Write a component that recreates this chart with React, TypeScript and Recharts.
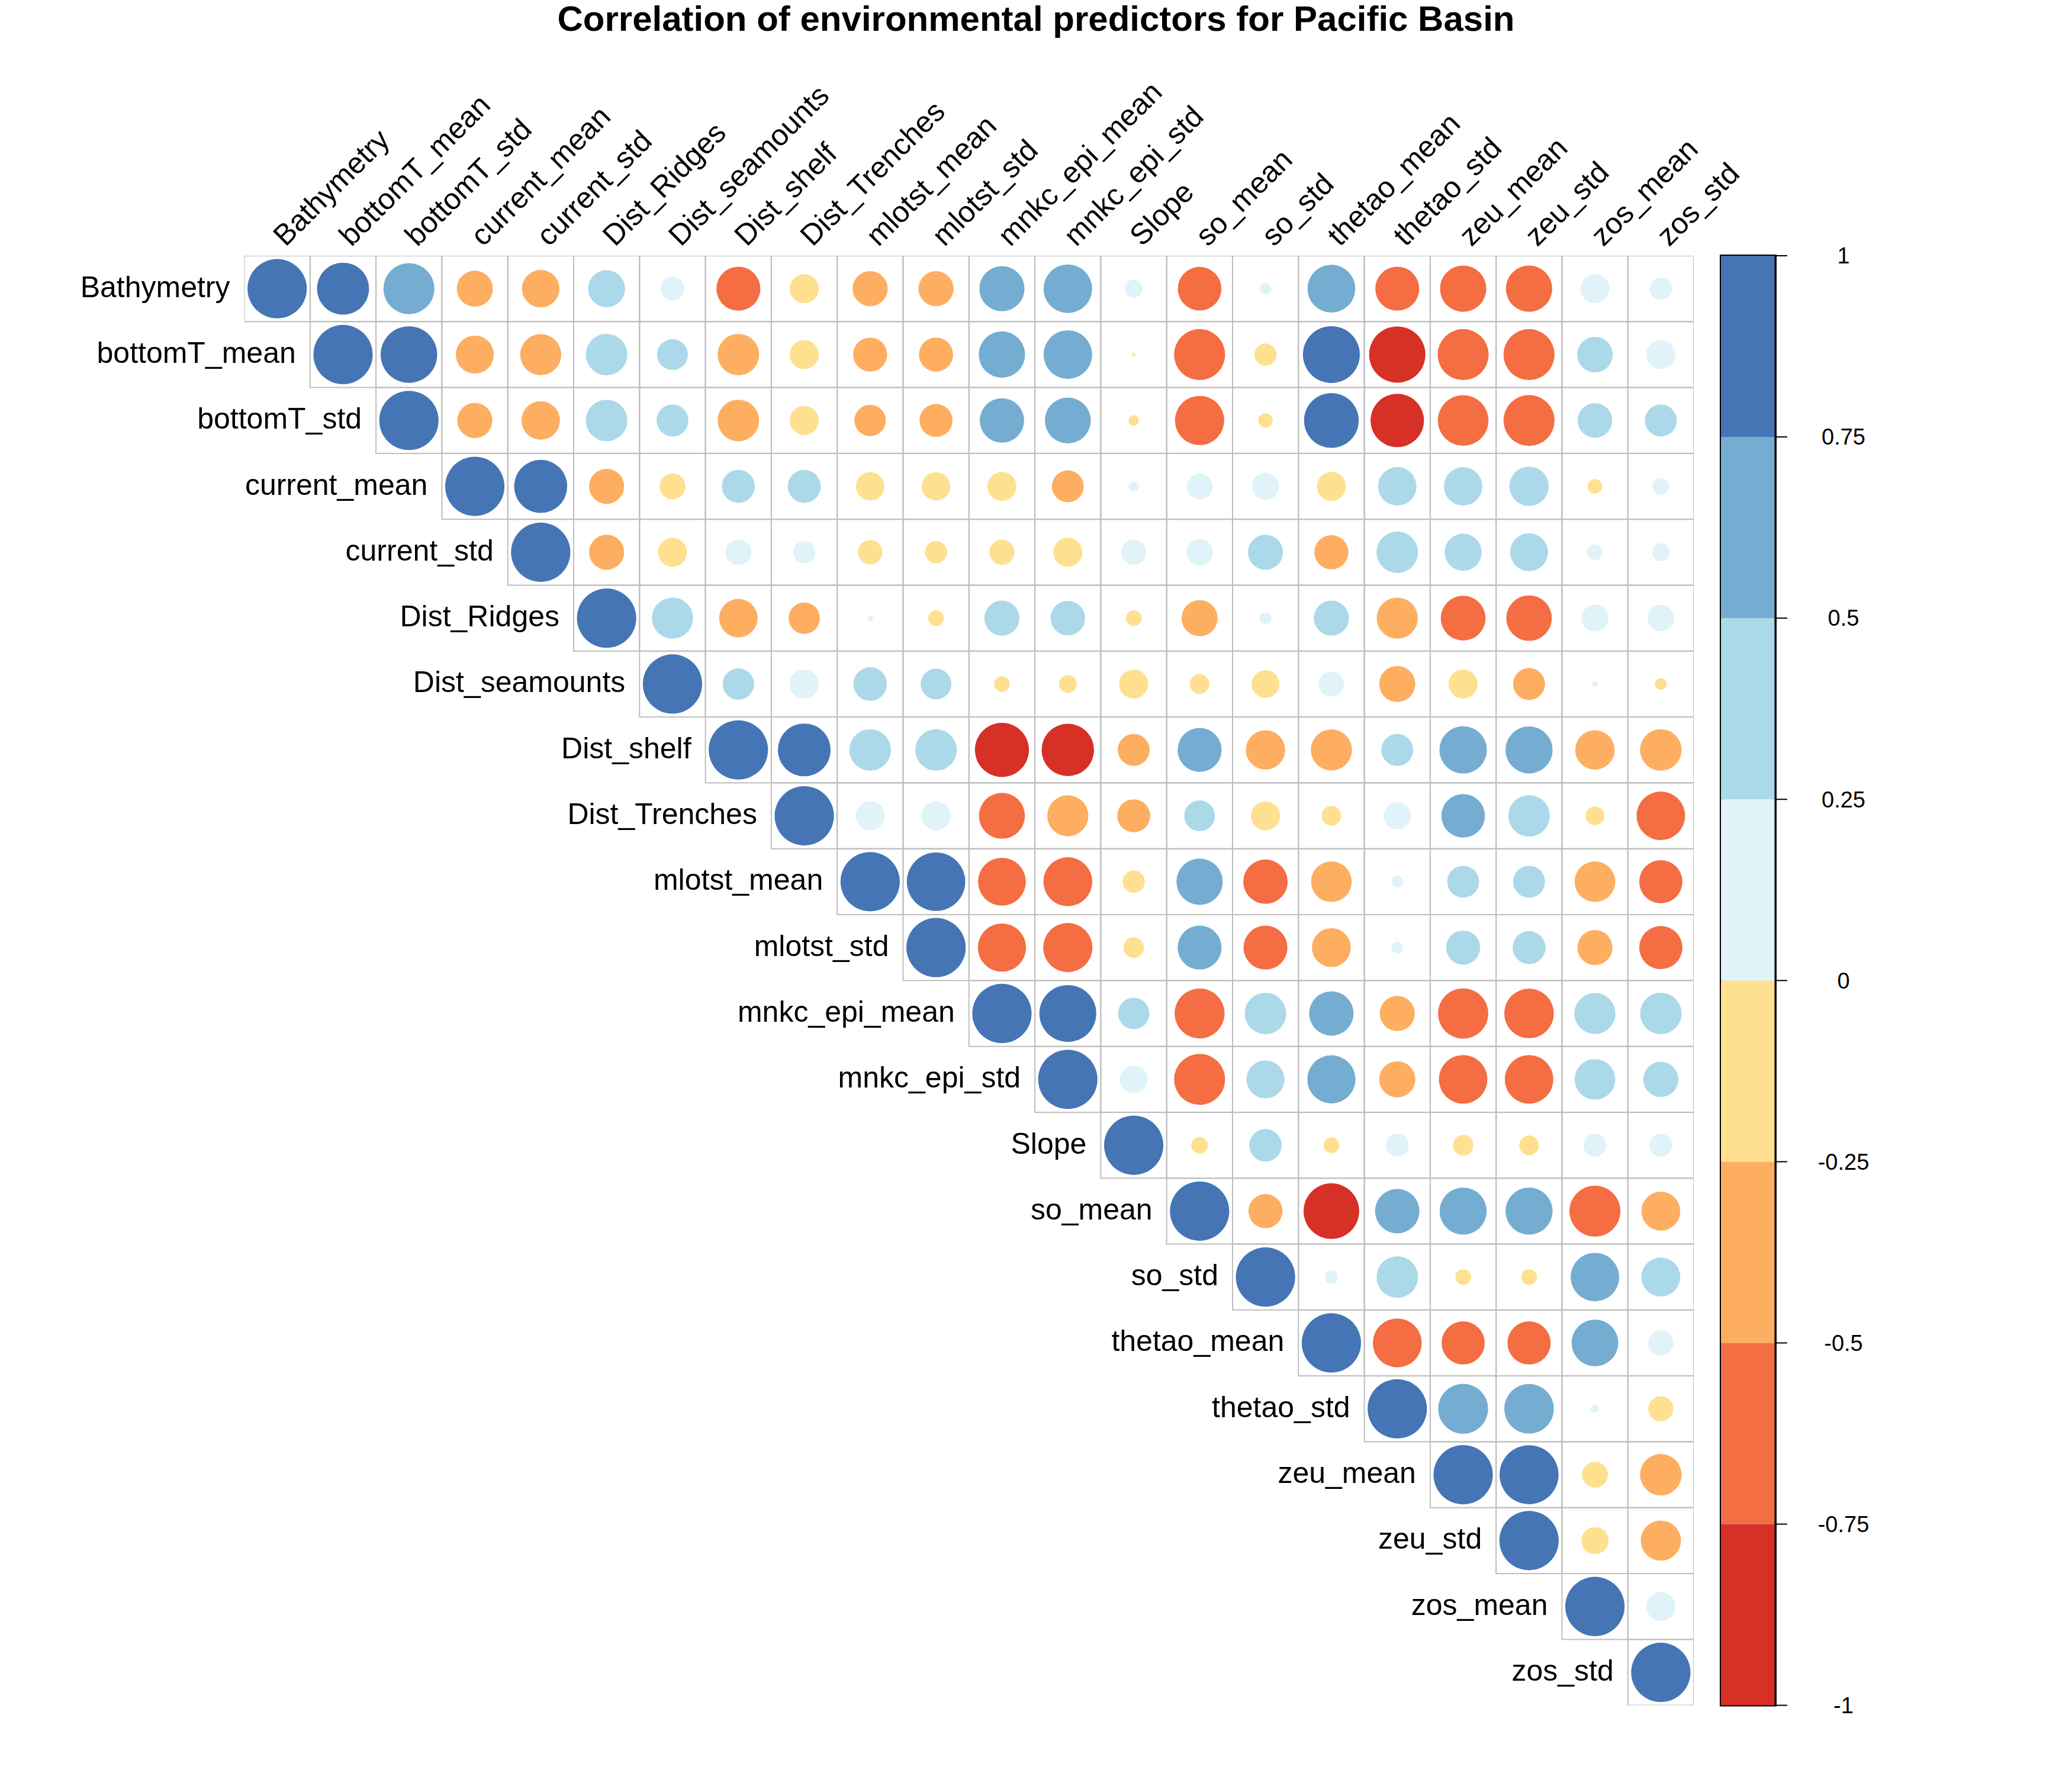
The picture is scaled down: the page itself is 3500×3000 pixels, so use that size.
import React from 'react';
import {
  ScatterChart, Scatter, XAxis, YAxis, ZAxis,
  BarChart, Bar, ReferenceArea,
} from 'recharts';

// ---------- data ----------
const VARS = [
  'Bathymetry', 'bottomT_mean', 'bottomT_std', 'current_mean', 'current_std',
  'Dist_Ridges', 'Dist_seamounts', 'Dist_shelf', 'Dist_Trenches', 'mlotst_mean',
  'mlotst_std', 'mnkc_epi_mean', 'mnkc_epi_std', 'Slope', 'so_mean', 'so_std',
  'thetao_mean', 'thetao_std', 'zeu_mean', 'zeu_std', 'zos_mean', 'zos_std',
];

// upper triangle rows: each starts at the diagonal
const r_Bathymetry = [1, 0.77, 0.74, -0.37, -0.40, 0.39, 0.16, -0.55, -0.24, -0.35, -0.35, 0.58, 0.67, 0.09, -0.54, 0.04, 0.65, -0.55, -0.61, -0.61, 0.24, 0.14];
const r_bottomT_mean = [1, 0.91, -0.41, -0.48, 0.49, 0.27, -0.49, -0.24, -0.33, -0.33, 0.61, 0.67, -0.003, -0.74, -0.14, 0.92, -0.90, -0.74, -0.74, 0.36, 0.24];
const r_bottomT_std = [1, -0.35, -0.42, 0.49, 0.29, -0.49, -0.24, -0.28, -0.31, 0.56, 0.60, -0.03, -0.69, -0.06, 0.85, -0.81, -0.73, -0.74, 0.34, 0.29];
const r_current_mean = [1, 0.80, -0.35, -0.19, 0.31, 0.31, -0.23, -0.23, -0.24, -0.29, 0.03, 0.19, 0.21, -0.24, 0.42, 0.42, 0.44, -0.06, 0.08];
const r_current_std = [1, -0.35, -0.24, 0.19, 0.14, -0.17, -0.14, -0.18, -0.24, 0.18, 0.20, 0.35, -0.33, 0.49, 0.39, 0.41, 0.07, 0.09];
const r_Dist_Ridges = [1, 0.48, -0.42, -0.28, 0.01, -0.07, 0.35, 0.34, -0.07, -0.37, 0.04, 0.35, -0.48, -0.57, -0.59, 0.21, 0.20];
const r_Dist_seamounts = [1, 0.28, 0.24, 0.32, 0.27, -0.07, -0.09, -0.24, -0.11, -0.22, 0.18, -0.37, -0.24, -0.29, 0.01, -0.04];
const r_Dist_shelf = [1, 0.79, 0.49, 0.49, -0.83, -0.78, -0.29, 0.55, -0.44, -0.48, 0.29, 0.64, 0.63, -0.44, -0.49];
const r_Dist_Trenches = [1, 0.24, 0.24, -0.60, -0.48, -0.31, 0.27, -0.24, -0.11, 0.21, 0.54, 0.49, -0.10, -0.67];
const r_mlotst_mean = [1, 0.97, -0.65, -0.68, -0.14, 0.61, -0.56, -0.47, 0.04, 0.29, 0.29, -0.47, -0.53];
const r_mlotst_std = [1, -0.66, -0.69, -0.12, 0.55, -0.55, -0.43, 0.04, 0.33, 0.31, -0.35, -0.53];
const r_mnkc_epi_mean = [1, 0.92, 0.28, -0.71, 0.49, 0.56, -0.35, -0.72, -0.70, 0.48, 0.49];
const r_mnkc_epi_std = [1, 0.22, -0.74, 0.41, 0.66, -0.37, -0.67, -0.67, 0.47, 0.35];
const r_Slope = [1, -0.08, 0.30, -0.07, 0.15, -0.12, -0.11, 0.15, 0.15];
const r_so_mean = [1, -0.33, -0.88, 0.56, 0.63, 0.63, -0.74, -0.43];
const r_so_std = [1, 0.05, 0.49, -0.07, -0.07, 0.67, 0.43];
const r_thetao_mean = [1, -0.68, -0.53, -0.53, 0.62, 0.18];
const r_thetao_std = [1, 0.71, 0.70, 0.02, -0.18];
const r_zeu_mean = [1, 0.99, -0.19, -0.49];
const r_zeu_std = [1, -0.21, -0.46];
const r_zos_mean = [1, 0.24];
const r_zos_std = [1];

const ROWS = [
  r_Bathymetry, r_bottomT_mean, r_bottomT_std, r_current_mean, r_current_std,
  r_Dist_Ridges, r_Dist_seamounts, r_Dist_shelf, r_Dist_Trenches, r_mlotst_mean,
  r_mlotst_std, r_mnkc_epi_mean, r_mnkc_epi_std, r_Slope, r_so_mean, r_so_std,
  r_thetao_mean, r_thetao_std, r_zeu_mean, r_zeu_std, r_zos_mean, r_zos_std,
];

const COLOR_BREAKS = [-1, -0.75, -0.5, -0.25, 0, 0.25, 0.5, 0.75, 1];
const PALETTE = ['#D73027', '#F46D43', '#FDAE61', '#FEE090', '#E0F3F8', '#ABD9E9', '#74ADD1', '#4575B4'];
const TITLE = 'Correlation of environmental predictors for Pacific Basin';

// ---------- layout ----------
const W = 3484;
const H = 2984;
const CELL = 111.3;
const PLOT_LEFT = 404.5;
const PLOT_TOP = 424;
const N = VARS.length;
const PLOT_SIZE = CELL * N;
const AXIS_W = 30;
const FONT = '"Liberation Sans", Arial, Helvetica, sans-serif';

const IDX = VARS.map((_, i) => i);
const cells = ROWS.flatMap((row, i) =>
  row.map((v, k) => ({ x: i + k, y: i, r: v, absR: Math.abs(v) }))
);

function colorFor(v: number) {
  for (let i = 0; i < PALETTE.length; i++) {
    if (v < COLOR_BREAKS[i + 1]) return PALETTE[i];
  }
  return PALETTE[PALETTE.length - 1];
}

function CellShape(props: any) {
  const { cx, cy, payload } = props;
  const rad = props.width != null ? props.width / 2 : Math.sqrt((props.size || 0) / Math.PI);
  return (
    <g>
      <rect x={cx - CELL / 2} y={cy - CELL / 2} width={CELL} height={CELL}
        fill="none" stroke="#BEBEBE" strokeWidth={2} />
      <circle cx={cx} cy={cy} r={rad} fill={colorFor(payload.r)} />
    </g>
  );
}

function ColTick(props: any) {
  const { x, payload } = props;
  const px = x + 14;
  const py = PLOT_TOP - 14;
  return (
    <text x={px} y={py} transform={`rotate(-45 ${px} ${py})`} textAnchor="start"
      fontSize={50} fontFamily={FONT} fill="#000">
      {VARS[payload.value]}
    </text>
  );
}

function RowTick(props: any) {
  const { y, payload } = props;
  const px = PLOT_LEFT + payload.value * CELL - 24;
  return (
    <text x={px} y={y + 14} textAnchor="end" fontSize={50} fontFamily={FONT} fill="#000">
      {VARS[payload.value]}
    </text>
  );
}

// ---------- colour legend ----------
const SEG_ORDER = [3, 2, 1, 0, 4, 5, 6, 7];
const legendRow: any = { name: 'legend' };
SEG_ORDER.forEach((i) => {
  const lo = COLOR_BREAKS[i];
  const hi = COLOR_BREAKS[i + 1];
  const mid = (lo + hi) / 2;
  legendRow['s' + i] = mid < 0 ? -(hi - lo) : hi - lo;
});
const legendData = [legendRow];

const CB_LEFT = 2899;
const CB_W = 92;
const CB_AXIS_W = 228;
const CB_PAD = 4;

function LegendTick(props: any) {
  const { x, y, payload } = props;
  return (
    <text x={x + 93} y={y} dy="0.35em" textAnchor="middle" fontSize={38}
      fontFamily={FONT} fill="#000">
      {String(payload.value)}
    </text>
  );
}

export default function App() {
  return (
    <div style={{ position: 'relative', width: W, height: H, background: '#fff' }}>
      <div style={{
        position: 'absolute', left: 0, top: -6, width: W, textAlign: 'center',
        fontFamily: FONT, fontWeight: 'bold', fontSize: 60, lineHeight: '60px', color: '#000',
      }}>
        {TITLE}
      </div>
      <div style={{ position: 'absolute', left: 0, top: 0 }}>
        <ScatterChart width={W} height={H}
          margin={{ top: PLOT_TOP - AXIS_W, left: PLOT_LEFT - AXIS_W, right: W - PLOT_LEFT - PLOT_SIZE, bottom: H - PLOT_TOP - PLOT_SIZE }}>
          <XAxis type="number" dataKey="x" domain={[-0.5, N - 0.5]} ticks={IDX} interval={0}
            orientation="top" height={AXIS_W} axisLine={false} tickLine={false}
            tick={<ColTick />} allowDataOverflow />
          <YAxis type="number" dataKey="y" domain={[-0.5, N - 0.5]} ticks={IDX} interval={0}
            reversed width={AXIS_W} axisLine={false} tickLine={false}
            tick={<RowTick />} allowDataOverflow />
          <ZAxis type="number" dataKey="absR" domain={[0, 1]}
            range={[0, Math.PI * Math.pow(0.45 * CELL, 2)]} />
          <Scatter data={cells} shape={<CellShape />} isAnimationActive={false} />
        </ScatterChart>
      </div>
      <div style={{ position: 'absolute', left: CB_LEFT - CB_PAD, top: 0 }}>
        <BarChart width={CB_PAD + CB_W + CB_AXIS_W} height={H} data={legendData}
          stackOffset="sign" barCategoryGap={0}
          margin={{ top: PLOT_TOP, left: CB_PAD, right: 0, bottom: H - PLOT_TOP - PLOT_SIZE }}>
          <XAxis dataKey="name" type="category" hide />
          <YAxis yAxisId="l" orientation="left" type="number" domain={[-1, 1]} width={0}
            tick={false} tickLine={false} axisLine={{ stroke: '#000', strokeWidth: 6 }} />
          <YAxis yAxisId="r" orientation="right" type="number" domain={[-1, 1]} ticks={COLOR_BREAKS}
            interval={0} width={CB_AXIS_W} axisLine={{ stroke: '#000', strokeWidth: 3 }} tickSize={20}
            tickLine={{ stroke: '#000', strokeWidth: 2 }} tick={<LegendTick />} />
          {SEG_ORDER.map((i) => (
            <Bar key={i} yAxisId="r" dataKey={'s' + i} stackId="cb" fill={PALETTE[i]} isAnimationActive={false} />
          ))}
          <ReferenceArea yAxisId="r" y1={-1} y2={1} fill="none" stroke="#000" strokeWidth={4} />
        </BarChart>
      </div>
    </div>
  );
}
